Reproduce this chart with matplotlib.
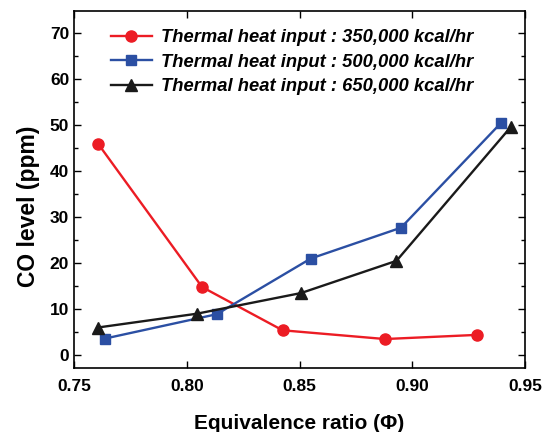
import matplotlib
matplotlib.use("Agg")
import matplotlib.pyplot as plt
from matplotlib.ticker import MultipleLocator

plt.rcParams['font.family'] = ['Liberation Sans', 'DejaVu Sans']

x_350 = [0.7606, 0.8068, 0.8425, 0.8879, 0.9286]
y_350 = [46.0, 14.8, 5.4, 3.5, 4.4]
x_500 = [0.7637, 0.8133, 0.8550, 0.8950, 0.9392]
y_500 = [3.6, 8.9, 21.0, 27.7, 50.4]
x_650 = [0.7605, 0.8044, 0.8507, 0.8930, 0.9437]
y_650 = [6.0, 9.0, 13.5, 20.5, 49.6]
labels = ["Thermal heat input : 350,000 kcal/hr",
          "Thermal heat input : 500,000 kcal/hr",
          "Thermal heat input : 650,000 kcal/hr"]
xticks = [0.75, 0.80, 0.85, 0.90, 0.95]
yticks = [0, 10, 20, 30, 40, 50, 60, 70]

fig = plt.figure(figsize=(5.47, 4.32), dpi=100)
ax = fig.add_axes([0.1353, 0.1481, 0.9598 - 0.1353, 0.9745 - 0.1481])

ax.plot(x_350, y_350, color='#ec1c24', marker='o', markersize=8, lw=1.7, label=labels[0])
ax.plot(x_500, y_500, color='#2b4fa3', marker='s', markersize=7, lw=1.7, label=labels[1])
ax.plot(x_650, y_650, color='#1a1a1a', marker='^', markersize=8.5, lw=1.7, label=labels[2])

ax.set_xlim(0.75, 0.95)
ax.set_ylim(-2.8, 74.8)
ax.set_xticks(xticks)
ax.set_xticklabels(["%.2f" % v for v in xticks])
ax.set_yticks(yticks)
ax.yaxis.set_minor_locator(MultipleLocator(5))
ax.tick_params(which='both', direction='in', top=True, right=True, labelsize=12.5, width=1)
ax.tick_params(axis='x', which='both', pad=8)
ax.tick_params(which='major', length=5)
ax.tick_params(which='minor', length=3)
for lbl in ax.get_xticklabels() + ax.get_yticklabels():
    lbl.set_fontweight('bold')
for s in ax.spines.values():
    s.set_linewidth(1.2)

ax.set_xlabel("Equivalence ratio (Φ)", fontsize=15, fontweight='bold', labelpad=14)
ax.set_ylabel("CO level (ppm)", fontsize=16.5, fontweight='bold')
ax.yaxis.set_label_coords(-0.076, 0.454)

leg = ax.legend(loc='upper left', bbox_to_anchor=(0.046, 0.995), frameon=False,
                prop={'size': 13.2, 'weight': 'bold', 'style': 'italic'},
                handlelength=2.2, handletextpad=0.5, labelspacing=0.4)

fig.savefig("out.png", dpi=100)
